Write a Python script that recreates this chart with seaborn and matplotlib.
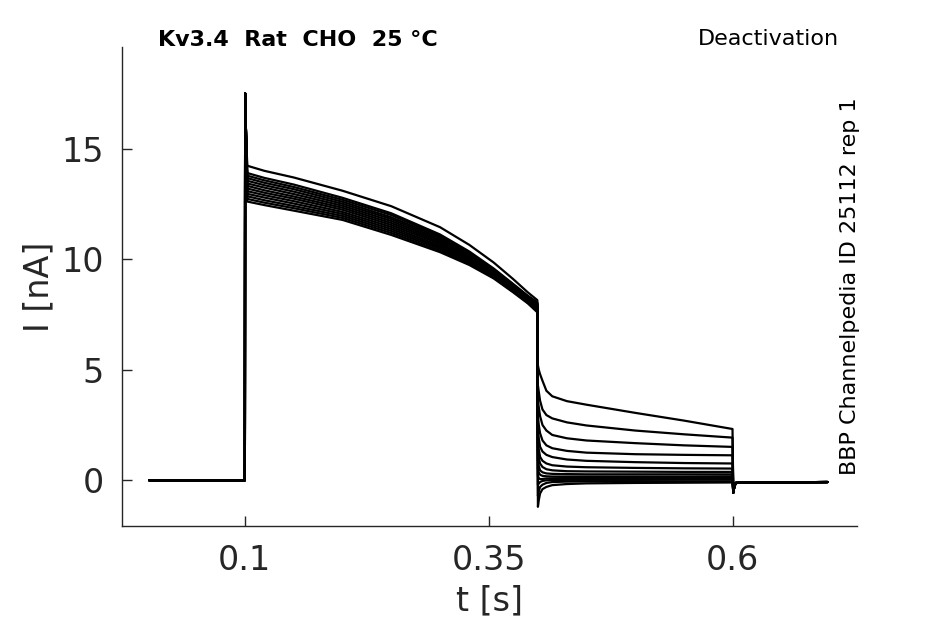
import numpy as np
import pandas as pd
import seaborn as sns
import matplotlib.pyplot as plt

# holding before the step
t_pre = [0.002, 0.0997]
i_pre = [0.0, 0.0]

# capacitive spike at the start of the step (shared by all sweeps)
t_spike = [0.1, 0.1003, 0.1012]
i_spike = [0.0, 17.5, 15.6]

# activation step, one row per sweep
t_act = [0.1025, 0.12, 0.15, 0.2, 0.25, 0.3, 0.33, 0.355, 0.375, 0.39, 0.3997]
i_act = [
    [14.23, 14.00, 13.70, 13.10, 12.40, 11.45, 10.65, 9.85, 9.10, 8.50, 8.15],
    [13.90, 13.68, 13.38, 12.78, 12.08, 11.12, 10.35, 9.58, 8.88, 8.35, 8.05],
    [13.78, 13.57, 13.27, 12.69, 12.00, 11.05, 10.30, 9.54, 8.85, 8.32, 8.01],
    [13.67, 13.46, 13.17, 12.60, 11.90, 10.98, 10.24, 9.50, 8.82, 8.29, 7.97],
    [13.55, 13.35, 13.06, 12.51, 11.82, 10.90, 10.19, 9.46, 8.78, 8.26, 7.93],
    [13.43, 13.24, 12.95, 12.42, 11.73, 10.83, 10.13, 9.42, 8.75, 8.22, 7.89],
    [13.32, 13.12, 12.84, 12.33, 11.64, 10.76, 10.08, 9.38, 8.71, 8.19, 7.85],
    [13.20, 13.01, 12.74, 12.24, 11.55, 10.69, 10.02, 9.34, 8.68, 8.16, 7.81],
    [13.08, 12.90, 12.63, 12.14, 11.46, 10.61, 9.97, 9.30, 8.64, 8.13, 7.77],
    [12.96, 12.79, 12.52, 12.05, 11.37, 10.54, 9.91, 9.25, 8.60, 8.10, 7.72],
    [12.85, 12.67, 12.41, 11.96, 11.28, 10.47, 9.85, 9.21, 8.57, 8.06, 7.68],
    [12.73, 12.56, 12.31, 11.87, 11.19, 10.39, 9.80, 9.17, 8.53, 8.03, 7.64],
    [12.61, 12.45, 12.20, 11.78, 11.10, 10.32, 9.74, 9.13, 8.50, 8.00, 7.60],
]

# deactivation step, one row per sweep
t_deact = [0.4003, 0.4012, 0.4025, 0.405, 0.409, 0.415, 0.43, 0.45, 0.5, 0.55, 0.5997]
i_deact = [
    [5.20, 5.00, 4.80, 4.50, 4.05, 3.80, 3.58, 3.42, 3.05, 2.70, 2.32],
    [4.30, 4.00, 3.60, 3.20, 2.95, 2.80, 2.62, 2.48, 2.25, 2.08, 1.93],
    [3.60, 3.30, 2.90, 2.50, 2.25, 2.05, 1.90, 1.80, 1.68, 1.58, 1.51],
    [2.90, 2.50, 2.13, 1.80, 1.58, 1.45, 1.33, 1.25, 1.18, 1.15, 1.13],
    [2.30, 1.90, 1.52, 1.30, 1.15, 1.05, 0.94, 0.88, 0.82, 0.78, 0.76],
    [1.70, 1.40, 1.06, 0.88, 0.76, 0.68, 0.62, 0.59, 0.56, 0.54, 0.53],
    [1.30, 1.00, 0.76, 0.60, 0.50, 0.45, 0.41, 0.40, 0.39, 0.38, 0.38],
    [0.90, 0.65, 0.45, 0.36, 0.31, 0.29, 0.28, 0.27, 0.27, 0.27, 0.27],
    [0.50, 0.35, 0.25, 0.20, 0.18, 0.17, 0.17, 0.17, 0.17, 0.17, 0.18],
    [0.20, 0.10, 0.05, 0.06, 0.08, 0.09, 0.10, 0.10, 0.10, 0.10, 0.10],
    [-0.20, -0.15, -0.08, -0.03, 0.00, 0.01, 0.02, 0.02, 0.02, 0.03, 0.03],
    [-0.70, -0.50, -0.30, -0.20, -0.12, -0.08, -0.06, -0.05, -0.05, -0.05, -0.05],
    [-1.20, -0.90, -0.60, -0.40, -0.30, -0.22, -0.17, -0.14, -0.12, -0.11, -0.10],
]

# back to holding
t_post = [0.6005, 0.6015, 0.603, 0.62, 0.697]
i_post = [-0.56, -0.30, -0.12, -0.10, -0.08]

xtick_vals = [0.1, 0.35, 0.6]
xtick_text = ["0.1", "0.35", "0.6"]
ytick_vals = [0, 5, 10, 15]

rows = []
for k in range(len(i_act)):
    t = t_pre + t_spike + t_act + t_deact + t_post
    i = i_pre + i_spike + i_act[k] + i_deact[k] + i_post
    rows.append(pd.DataFrame({"t": t, "I": i, "sweep": k}))
df = pd.concat(rows, ignore_index=True)

sns.set_style("white")
plt.rcParams['font.family'] = ['DejaVu Sans']
dark = "#262626"

fig = plt.figure(figsize=(9.45, 6.24), dpi=100)
ax = fig.add_axes([0.129, 0.157, 0.7776, 0.7676])

sns.lineplot(data=df, x="t", y="I", units="sweep", estimator=None,
             color="black", linewidth=1.6, sort=False, ax=ax, legend=False)

ax.set_xlim(-0.026, 0.727)
ax.set_ylim(-2.07, 19.6)
ax.set_xticks(xtick_vals)
ax.set_xticklabels(xtick_text)
ax.set_yticks(ytick_vals)
ax.tick_params(direction="in", length=7, width=1, colors=dark,
               labelsize=24, pad=13, left=True, bottom=True)
ax.set_xlabel("t [s]", fontsize=24, color=dark, labelpad=5)
ax.set_ylabel("I [nA]", fontsize=24, color=dark, labelpad=4)

sns.despine(ax=ax)
for s in ["left", "bottom"]:
    ax.spines[s].set_color(dark)
    ax.spines[s].set_linewidth(1)

fig.text(158 / 945, 1 - 40 / 624, "Kv3.4  Rat  CHO  25 °C", fontsize=16,
         fontweight="bold", ha="left", va="center", color="black")
fig.text(839 / 945, 1 - 39 / 624, "Deactivation", fontsize=16,
         ha="right", va="center", color="black")
fig.text(850 / 945, 1 - 97 / 624, "BBP Channelpedia ID 25112 rep 1",
         fontsize=16, rotation=90, ha="center", va="top", color="black")

fig.savefig("out.png", dpi=100)
plt.close(fig)
